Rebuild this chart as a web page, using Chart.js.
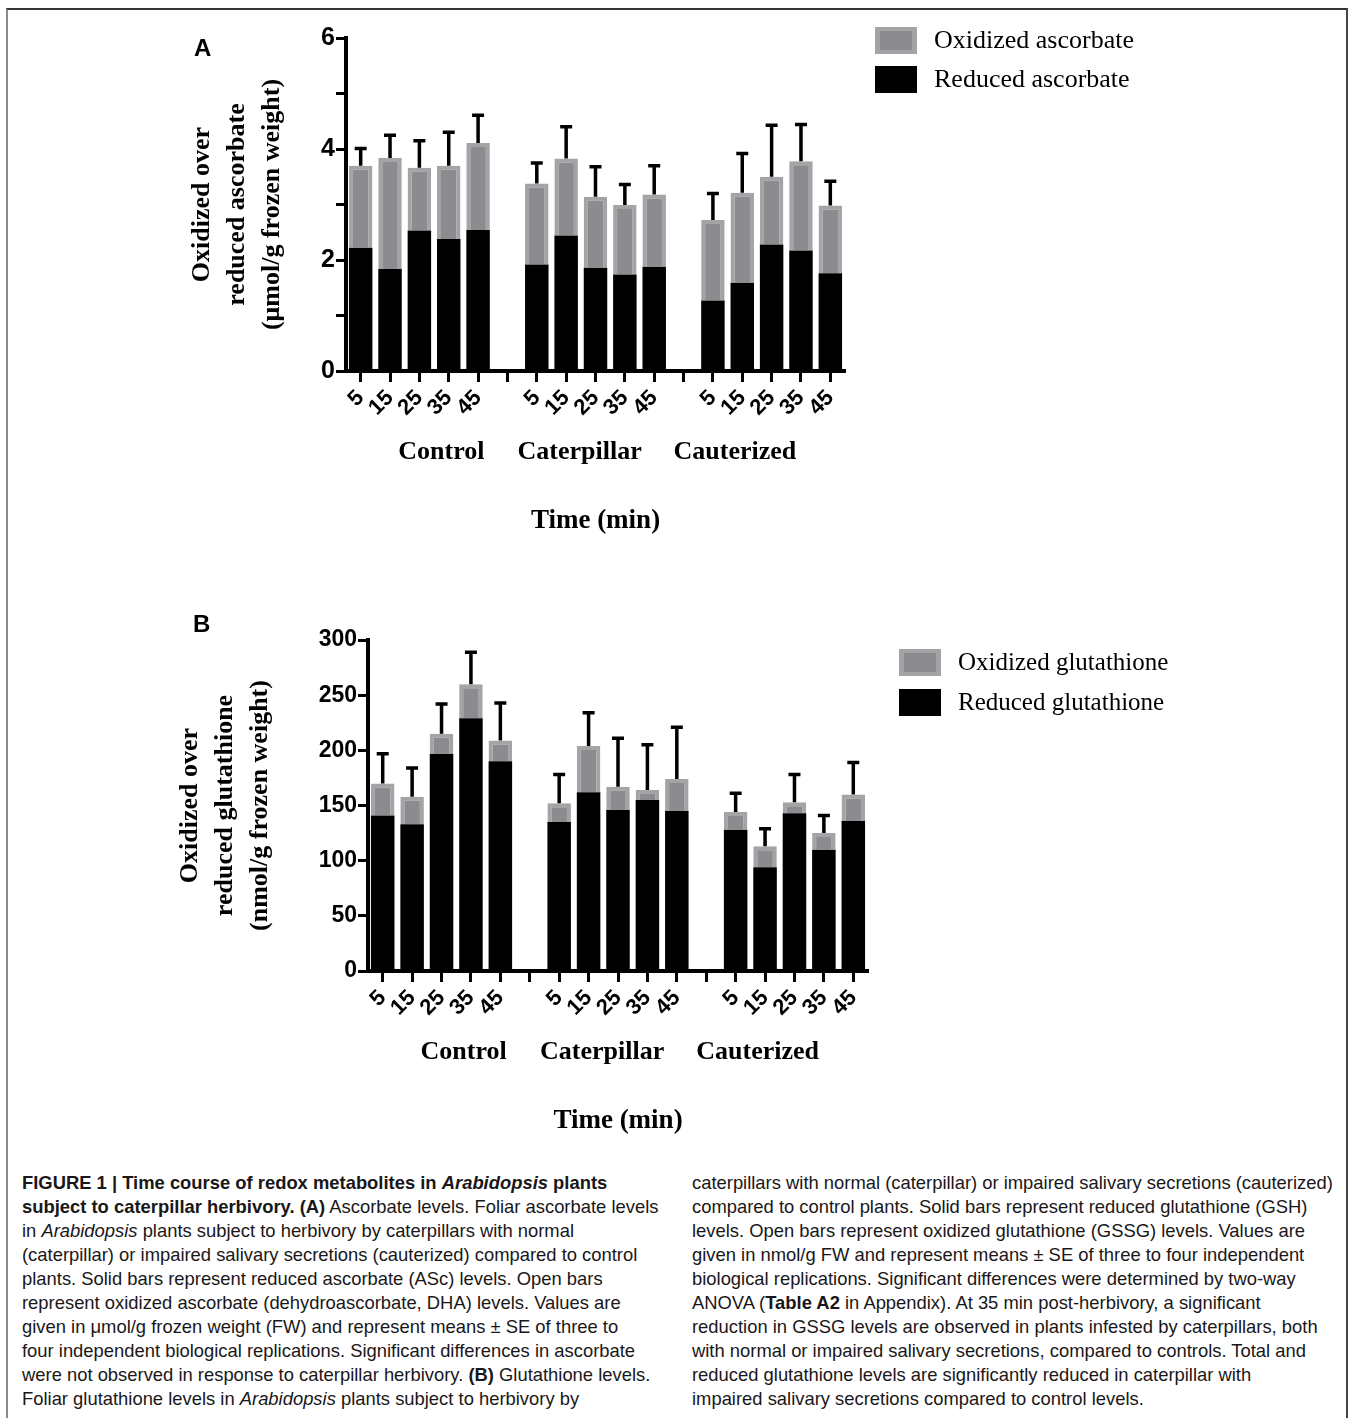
<!DOCTYPE html>
<html>
<head>
<meta charset="utf-8">
<script src="https://cdn.jsdelivr.net/npm/chart.js@4.4.1/dist/chart.umd.min.js"></script>
<style>
  body { margin: 0; background: #fff; }
  #page { position: relative; width: 1349px; height: 1418px; overflow: hidden; }
  #frame { position: absolute; left: 6px; top: 8px; width: 1338px; height: 1430px;
           border-top: 2px solid #333; border-left: 2px solid #8a8a8a; border-right: 2px solid #444; }
  canvas { position: absolute; left: 0; }
  .panel { position: absolute; font: bold 24px 'Liberation Sans', Arial, sans-serif; line-height: 28px; }
  .caption { position: absolute; top: 1171px; font: 18.4px/24px 'Liberation Sans', Arial, sans-serif;
             color: #1a1718; white-space: nowrap; }
</style>
</head>
<body>
<div id="page">
  <div id="frame"></div>
  <canvas id="chartA" width="1349" height="560" style="top:0"></canvas>
  <canvas id="chartB" width="1349" height="580" style="top:580px"></canvas>
  <div class="panel" style="left:194px; top:34px">A</div>
  <div class="panel" style="left:193px; top:610px">B</div>

  <div class="caption" style="left:22px">
    <b>FIGURE 1 | Time course of redox metabolites in <i>Arabidopsis</i> plants</b><br>
    <b>subject to caterpillar herbivory. (A)</b> Ascorbate levels. Foliar ascorbate levels<br>
    in <i>Arabidopsis</i> plants subject to herbivory by caterpillars with normal<br>
    (caterpillar) or impaired salivary secretions (cauterized) compared to control<br>
    plants. Solid bars represent reduced ascorbate (ASc) levels. Open bars<br>
    represent oxidized ascorbate (dehydroascorbate, DHA) levels. Values are<br>
    given in μmol/g frozen weight (FW) and represent means ± SE of three to<br>
    four independent biological replications. Significant differences in ascorbate<br>
    were not observed in response to caterpillar herbivory. <b>(B)</b> Glutathione levels.<br>
    Foliar glutathione levels in <i>Arabidopsis</i> plants subject to herbivory by
  </div>
  <div class="caption" style="left:692px">
    caterpillars with normal (caterpillar) or impaired salivary secretions (cauterized)<br>
    compared to control plants. Solid bars represent reduced glutathione (GSH)<br>
    levels. Open bars represent oxidized glutathione (GSSG) levels. Values are<br>
    given in nmol/g FW and represent means ± SE of three to four independent<br>
    biological replications. Significant differences were determined by two-way<br>
    ANOVA (<b>Table A2</b> in Appendix). At 35 min post-herbivory, a significant<br>
    reduction in GSSG levels are observed in plants infested by caterpillars, both<br>
    with normal or impaired salivary secretions, compared to controls. Total and<br>
    reduced glutathione levels are significantly reduced in caterpillar with<br>
    impaired salivary secretions compared to control levels.
  </div>
</div>

<script>
// categories
const timeLabels = ['5', '15', '25', '35', '45'];
const groups = ['Control', 'Caterpillar', 'Cauterized'];

// panel A: ascorbate (umol/g), Control x5, Caterpillar x5, Cauterized x5
const ascReduced  = [2.22, 1.84, 2.53, 2.38, 2.54,  1.92, 2.44, 1.86, 1.74, 1.88,  1.27, 1.59, 2.28, 2.17, 1.76];
const ascOxidized = [1.48, 2.00, 1.13, 1.32, 1.57,  1.46, 1.39, 1.28, 1.25, 1.30,  1.45, 1.62, 1.22, 1.61, 1.22];
const ascError    = [0.31, 0.41, 0.49, 0.60, 0.50,  0.37, 0.57, 0.54, 0.37, 0.52,  0.48, 0.71, 0.93, 0.66, 0.44];
const ascTicks = [0, 2, 4, 6];

// panel B: glutathione (nmol/g)
const gshReduced  = [141, 133, 197, 229, 190,  135, 162, 146, 155, 145,  128, 94, 143, 110, 136];
const gshOxidized = [29, 25, 18, 31, 19,  17, 42, 21, 9, 29,  16, 19, 10, 15, 24];
const gshError    = [27, 26, 27, 29, 34,  26, 30, 44, 41, 47,  17, 16, 25, 16, 29];
const gshTicks = [0, 50, 100, 150, 200, 250, 300];

// one empty slot between the groups
function toSlots(values) {
    const out = [];
    groups.forEach((g, gi) => {
        if (gi > 0) out.push(null);
        timeLabels.forEach((t, ti) => out.push(values[gi * timeLabels.length + ti]));
    });
    return out;
}
const slotLabels = groups.flatMap((g, gi) => gi ? [''].concat(timeLabels) : timeLabels);

const GRAY = '#8c8b90';
const GRAY_EDGE = '#a4a4a6';

const errorBars = {
    id: 'errorBars',
    afterDatasetsDraw(chart) {
        const { ctx, scales: { x, y } } = chart;
        const [low, high] = chart.data.datasets;
        ctx.save();
        ctx.strokeStyle = '#000';
        ctx.lineWidth = 3.5;
        high.errors.forEach((e, i) => {
            if (e == null) return;
            const top = low.data[i] + high.data[i];
            const px = x.getPixelForValue(i);
            const y0 = y.getPixelForValue(top);
            const y1 = y.getPixelForValue(top + e);
            ctx.beginPath();
            ctx.moveTo(px, y0);
            ctx.lineTo(px, y1);
            ctx.moveTo(px - 6, y1);
            ctx.lineTo(px + 6, y1);
            ctx.stroke();
        });
        ctx.restore();
    },
};

const groupLabels = {
    id: 'groupLabels',
    afterDraw(chart, args, opts) {
        const { ctx, chartArea, scales: { x } } = chart;
        const p0 = x.getPixelForValue(0);
        const step = x.getPixelForValue(1) - p0;
        ctx.save();
        ctx.font = 'bold 26px "Liberation Serif"';
        ctx.fillStyle = '#000';
        ctx.textAlign = 'center';
        ctx.textBaseline = 'middle';
        groups.forEach((g, i) => ctx.fillText(g, p0 + opts.slots[i] * step, chartArea.bottom + 81));
        ctx.restore();
    },
};

const sideLegend = {
    id: 'sideLegend',
    afterDraw(chart, args, opts) {
        const { ctx, chartArea } = chart;
        const items = chart.data.datasets.slice().reverse();
        ctx.save();
        ctx.font = opts.fontSize + 'px "Liberation Serif"';
        ctx.textBaseline = 'middle';
        items.forEach((ds, i) => {
            const bx = chartArea.right + opts.dx;
            const by = chartArea.top + opts.dy + i * opts.step;
            if (ds.borderWidth) {
                ctx.fillStyle = ds.borderColor;
                ctx.fillRect(bx, by, 42, 27);
                ctx.fillStyle = ds.backgroundColor;
                ctx.fillRect(bx + 5, by + 4, 32, 19);
            } else {
                ctx.fillStyle = ds.backgroundColor;
                ctx.fillRect(bx, by, 42, 27);
            }
            ctx.fillStyle = '#000';
            ctx.fillText(ds.label, bx + 59, by + 14);
        });
        ctx.restore();
    },
};

function makeChart(id, cfg) {
    const serif = 'Liberation Serif';
    const sans = 'Liberation Sans';
    return new Chart(document.getElementById(id), {
        type: 'bar',
        data: {
            labels: slotLabels,
            datasets: [{
                label: cfg.names[0],
                data: toSlots(cfg.reduced),
                backgroundColor: '#000',
                borderWidth: 0,
                barPercentage: 0.8,
                categoryPercentage: 1,
            }, {
                label: cfg.names[1],
                data: toSlots(cfg.oxidized),
                errors: toSlots(cfg.error),
                backgroundColor: GRAY,
                borderColor: GRAY_EDGE,
                borderWidth: 4,
                barPercentage: 0.8,
                categoryPercentage: 1,
            }],
        },
        options: {
            responsive: false,
            animation: false,
            layout: { padding: cfg.padding },
            plugins: {
                legend: { display: false },
                tooltip: { enabled: false },
                groupLabels: { slots: [2.75, 7.46, 12.75] },
                sideLegend: cfg.legend,
            },
            scales: {
                x: {
                    stacked: true,
                    afterFit: (s) => { s.height = 170; },
                    border: { color: '#000', width: 4 },
                    grid: { drawOnChartArea: false, offset: false, color: '#000', tickLength: 11, tickWidth: 3 },
                    ticks: {
                        autoSkip: false, maxRotation: 45, minRotation: 45, padding: 3, color: '#000',
                        font: { family: sans, weight: 'bold', size: 22 },
                    },
                    title: {
                        display: true, text: 'Time (min)', color: '#000', padding: { bottom: 4 },
                        font: { family: serif, weight: 'bold', size: 27, lineHeight: 1.2 },
                    },
                },
                y: {
                    stacked: true,
                    min: 0,
                    max: cfg.ticks[cfg.ticks.length - 1],
                    afterFit: (s) => { s.width = cfg.axisLeft; },
                    border: { color: '#000', width: 4 },
                    grid: { drawOnChartArea: false, color: '#000', tickLength: 10, tickWidth: 3 },
                    ticks: {
                        stepSize: cfg.minorStep, padding: 1, color: '#000',
                        font: { family: sans, weight: 'bold', size: cfg.tickSize },
                        callback: (v) => cfg.ticks.includes(v) ? String(v) : '',
                    },
                    title: {
                        display: true, text: cfg.title, color: '#000', padding: { top: cfg.titlePad },
                        font: { family: serif, weight: 'bold', size: 26, lineHeight: 1.34 },
                    },
                },
            },
        },
        plugins: [errorBars, groupLabels, sideLegend],
    });
}

makeChart('chartA', {
    names: ['Reduced ascorbate', 'Oxidized ascorbate'],
    reduced: ascReduced, oxidized: ascOxidized, error: ascError,
    ticks: ascTicks, minorStep: 1, tickSize: 25,
    axisLeft: 346, titlePad: 185,
    title: ['Oxidized over', 'reduced ascorbate', '(μmol/g frozen weight)'],
    padding: { left: 0, right: 504, top: 38, bottom: 19 },
    legend: { dx: 30, dy: -11, step: 39, fontSize: 26 },
});

makeChart('chartB', {
    names: ['Reduced glutathione', 'Oxidized glutathione'],
    reduced: gshReduced, oxidized: gshOxidized, error: gshError,
    ticks: gshTicks, minorStep: 25, tickSize: 23,
    axisLeft: 368, titlePad: 173,
    title: ['Oxidized over', 'reduced glutathione', '(nmol/g frozen weight)'],
    padding: { left: 0, right: 481, top: 60, bottom: 19 },
    legend: { dx: 31, dy: 9, step: 40, fontSize: 25 },
});
</script>
</body>
</html>
